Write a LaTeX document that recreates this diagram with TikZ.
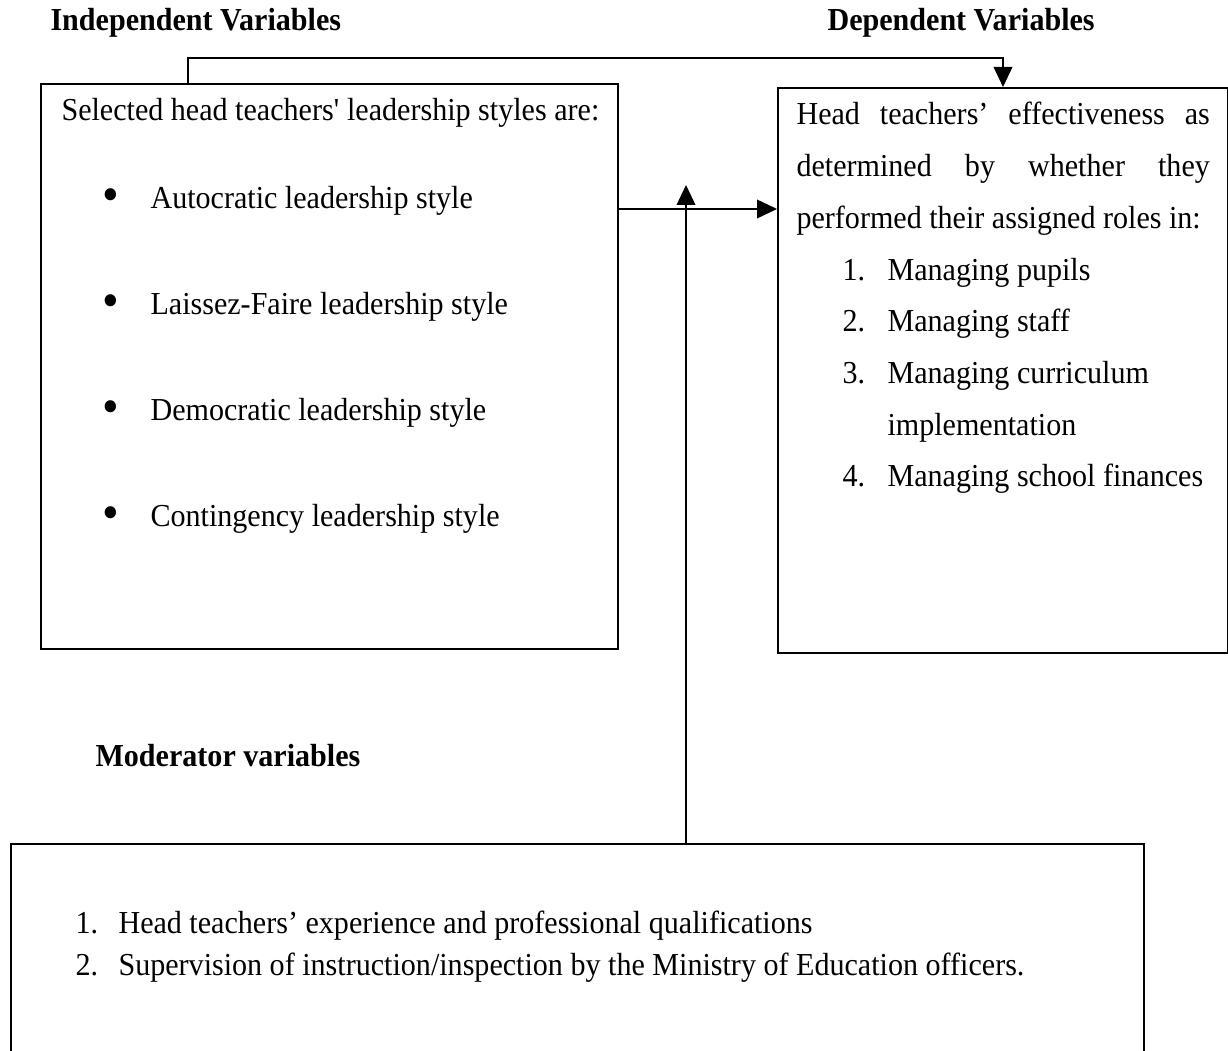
\documentclass[tikz,border=0pt]{standalone}
\usepackage{fontspec}
\setmainfont{Liberation Serif}[FakeStretch=0.94]
\usetikzlibrary{arrows.meta}

\begin{document}
\begin{tikzpicture}[x=0.375pt, y=-0.375pt, font=\fontsize{12}{14}\selectfont,
	riquadro/.style={draw=black, line width=0.75pt, inner sep=0pt, anchor=north west},
	testo/.style={anchor=base west, inner sep=0pt},
	titolo/.style={testo, font=\fontsize{12}{14}\selectfont\bfseries},
	punto/.style={anchor=center, inner sep=0pt, font=\fontsize{19}{19}\selectfont},
	freccia/.style={-{Triangle[length=7.5pt,width=7pt]}, line width=0.6pt, black},
	]
	
	\def\pb{106}    % passo elenco puntato
	\def\pn{51.7}   % passo righe riquadro destro
	\def\lr{155pt}  % larghezza righe giustificate
	
	\useasboundingbox (0,0) rectangle (1228,1051);
	
	%% ── Titoli ───────────────────────────────────────────────────────────────
	\node[titolo] (tIndip) at (50,31) {Independent Variables};
	\node[titolo] (tDip) at (827,31) {Dependent Variables};
	\node[titolo] (tModer) at (95,766) {Moderator variables};
	
	%% ── Riquadri ─────────────────────────────────────────────────────────────
	\node[riquadro, minimum width=216.4pt, minimum height=211.9pt] (indip) at (40,83) {};
	\node[riquadro, minimum width=168.75pt, minimum height=211.9pt] (dip) at (777,87) {};
	\node[riquadro, minimum width=424.9pt, minimum height=90pt] (moder) at (10,843) {};
	
	%% ── Stili di leadership ──────────────────────────────────────────────────
	\node[testo] (sel) at (61,121) {Selected head teachers\textquotesingle{} leadership styles are:};
	\foreach \t [count=\i] in {Autocratic, Laissez-Faire, Democratic, Contingency}{
		\pgfmathsetmacro{\yb}{209+(\i-1)*\pb}
		\node[punto] (pto\i) at (111,\yb-9) {\textbullet};
		\node[testo] (sti\i) at (150,\yb) {\t\ leadership style};}
	
	%% ── Efficacia ────────────────────────────────────────────────────────────
	\node[testo] (eff1) at (796,125) {\makebox[\lr][s]{Head teachers’ effectiveness as}};
	\node[testo] (eff2) at (796,{125+\pn}) {\makebox[\lr][s]{determined by whether they}};
	\node[testo] (eff3) at (796,{125+2*\pn}) {performed their assigned roles in:};
	\node[testo] (num1) at (842,{125+3*\pn}) {1.};
	\node[testo] (rl1) at (887,{125+3*\pn}) {Managing pupils};
	\node[testo] (num2) at (842,{125+4*\pn}) {2.};
	\node[testo] (rl2) at (887,{125+4*\pn}) {Managing staff};
	\node[testo] (num3) at (842,{125+5*\pn}) {3.};
	\node[testo] (rl3) at (887,{125+5*\pn}) {Managing curriculum};
	\node[testo] (rl3b) at (887,{125+6*\pn}) {implementation};
	\node[testo] (num4) at (842,{125+7*\pn}) {4.};
	\node[testo] (rl4) at (887,{125+7*\pn}) {Managing school finances};
	
	%% ── Moderatori ───────────────────────────────────────────────────────────
	\node[testo] (mn1) at (75,933) {1.};
	\node[testo] (mv1) at (118,933) {Head teachers’ experience and professional qualifications};
	\node[testo] (mn2) at (75,975) {2.};
	\node[testo] (mv2) at (118,975) {Supervision of instruction/inspection by the Ministry of Education officers.};
	
	%% ── Frecce ───────────────────────────────────────────────────────────────
	\coordinate (gomito) at (1003,58);
	\coordinate (punta) at (686,185);
	\draw[freccia] (indip.north -| 188,0) |- (gomito) -- (gomito |- dip.north);
	\draw[freccia] (indip.east |- 0,209) -- (dip.west |- 0,209);
	\draw[freccia] (moder.north -| punta) -- (punta);
	
\end{tikzpicture}
\end{document}
